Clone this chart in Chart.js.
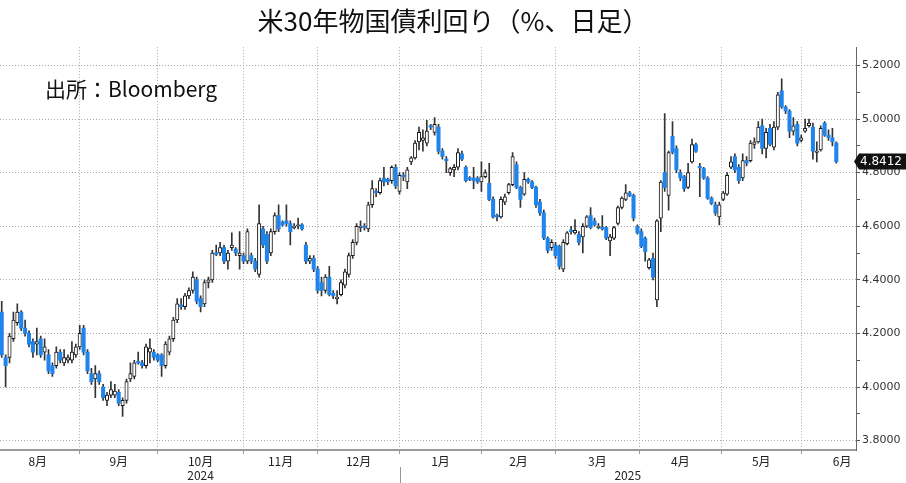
<!DOCTYPE html>
<html><head><meta charset="utf-8">
<script src="https://cdn.jsdelivr.net/npm/chart.js@4.4.1/dist/chart.umd.min.js"></script>
<style>
html,body{margin:0;padding:0;background:#fff;}
#wrap{position:relative;width:906px;height:483px;overflow:hidden;}
#src{position:absolute;left:45px;top:76px;font-family:'Noto Sans CJK JP','Noto Sans',sans-serif;font-size:21px;line-height:24px;color:#111;white-space:nowrap;}
</style></head><body>
<div id="wrap"><canvas id="c" width="906" height="483"></canvas><div id="src">出所：Bloomberg</div></div>
<script>
// ---- Data (daily OHLC of US 30Y yield, trading-day index 0..214) ----
const openV = [
4.28,4.11,4.11,4.18,4.24,4.28,4.22,4.20,4.17,4.16,
4.18,4.13,4.12,4.08,4.08,4.13,4.09,4.10,4.10,4.12,
4.15,4.22,4.13,4.05,4.03,4.05,4.00,3.95,3.97,3.97,
3.98,3.93,3.95,4.03,4.04,4.095,4.09,4.08,4.13,4.13,
4.12,4.12,4.08,4.13,4.18,4.25,4.305,4.30,4.34,4.36,
4.40,4.33,4.31,4.39,4.40,4.50,4.50,4.52,4.47,4.52,
4.515,4.49,4.49,4.47,4.49,4.47,4.42,4.59,4.57,4.50,
4.58,4.64,4.615,4.62,4.61,4.595,4.60,4.605,4.53,4.47,
4.48,4.44,4.39,4.36,4.41,4.35,4.33,4.345,4.38,4.42,
4.49,4.54,4.595,4.60,4.59,4.68,4.73,4.725,4.78,4.775,
4.77,4.82,4.73,4.79,4.765,4.84,4.855,4.915,4.92,4.91,
4.975,4.95,4.97,4.88,4.85,4.80,4.81,4.82,4.87,4.82,
4.78,4.78,4.78,4.765,4.785,4.76,4.70,4.64,4.635,4.69,
4.725,4.755,4.83,4.745,4.72,4.775,4.765,4.745,4.69,4.65,
4.555,4.52,4.53,4.525,4.44,4.535,4.585,4.575,4.57,4.56,
4.60,4.64,4.62,4.595,4.595,4.595,4.545,4.555,4.61,4.67,
4.70,4.725,4.715,4.60,4.58,4.555,4.445,4.48,4.325,4.63,
4.80,4.715,4.935,4.89,4.80,4.785,4.745,4.84,4.905,4.822,
4.815,4.78,4.705,4.68,4.635,4.70,4.72,4.82,4.86,4.82,
4.78,4.845,4.845,4.905,4.915,4.975,4.89,4.965,4.895,4.97,
5.105,5.045,5.03,4.955,4.98,4.92,4.955,4.975,4.97,4.875,
4.885,4.985,4.94,4.93,4.91];
const highV = [
4.32,4.12,4.20,4.28,4.31,4.285,4.25,4.21,4.18,4.22,
4.19,4.18,4.14,4.09,4.15,4.14,4.14,4.12,4.17,4.16,
4.23,4.23,4.14,4.07,4.08,4.06,4.01,3.98,4.02,4.01,
3.99,3.96,4.03,4.09,4.10,4.13,4.10,4.16,4.18,4.14,
4.125,4.125,4.17,4.19,4.26,4.33,4.33,4.35,4.37,4.43,
4.41,4.34,4.40,4.41,4.51,4.53,4.54,4.53,4.51,4.575,
4.52,4.58,4.50,4.59,4.50,4.48,4.68,4.60,4.58,4.59,
4.65,4.68,4.62,4.68,4.62,4.61,4.63,4.61,4.54,4.49,
4.49,4.45,4.41,4.42,4.45,4.36,4.36,4.40,4.44,4.50,
4.55,4.61,4.62,4.61,4.69,4.77,4.74,4.78,4.82,4.78,
4.825,4.83,4.80,4.80,4.82,4.86,4.92,4.97,4.96,4.995,
4.98,5.005,4.98,4.89,4.86,4.82,4.83,4.89,4.88,4.825,
4.785,4.82,4.785,4.84,4.81,4.835,4.71,4.645,4.71,4.72,
4.76,4.875,4.84,4.75,4.80,4.78,4.77,4.75,4.70,4.66,
4.56,4.55,4.54,4.53,4.55,4.58,4.60,4.625,4.58,4.61,
4.64,4.67,4.63,4.61,4.64,4.60,4.57,4.60,4.675,4.71,
4.755,4.73,4.72,4.605,4.59,4.56,4.48,4.50,4.625,4.77,
5.02,4.88,4.99,4.90,4.81,4.79,4.835,4.925,4.91,4.835,
4.82,4.785,4.71,4.69,4.69,4.73,4.80,4.86,4.87,4.83,
4.87,4.86,4.92,4.93,4.99,5.00,4.965,4.98,4.99,5.10,
5.15,5.05,5.035,5.005,4.99,4.94,5.00,5.00,4.985,4.915,
4.975,4.99,4.96,4.965,4.915];
const lowV = [
4.11,4.00,4.09,4.17,4.23,4.21,4.19,4.15,4.11,4.12,
4.11,4.10,4.05,4.04,4.07,4.09,4.08,4.09,4.09,4.11,
4.14,4.12,4.05,4.01,3.96,4.01,3.95,3.93,3.96,3.96,
3.93,3.89,3.94,4.02,4.03,4.085,4.07,4.07,4.09,4.10,
4.095,4.04,4.07,4.12,4.17,4.24,4.29,4.29,4.33,4.35,
4.31,4.28,4.30,4.37,4.39,4.49,4.49,4.46,4.44,4.51,
4.49,4.44,4.46,4.46,4.46,4.43,4.41,4.52,4.46,4.49,
4.57,4.58,4.60,4.60,4.53,4.59,4.59,4.585,4.46,4.46,
4.43,4.35,4.34,4.35,4.34,4.33,4.31,4.34,4.37,4.41,
4.48,4.53,4.58,4.585,4.58,4.67,4.71,4.72,4.75,4.755,
4.76,4.74,4.72,4.77,4.74,4.83,4.85,4.885,4.88,4.90,
4.96,4.94,4.87,4.85,4.80,4.79,4.785,4.81,4.845,4.765,
4.77,4.74,4.76,4.73,4.78,4.695,4.63,4.62,4.63,4.68,
4.72,4.75,4.74,4.67,4.715,4.76,4.74,4.67,4.64,4.55,
4.50,4.51,4.48,4.44,4.43,4.53,4.57,4.57,4.53,4.50,
4.595,4.59,4.60,4.59,4.585,4.55,4.49,4.55,4.605,4.665,
4.695,4.71,4.62,4.57,4.52,4.47,4.44,4.40,4.30,4.58,
4.73,4.66,4.87,4.80,4.77,4.73,4.74,4.835,4.875,4.71,
4.775,4.70,4.68,4.64,4.605,4.695,4.715,4.815,4.80,4.76,
4.77,4.825,4.84,4.89,4.91,4.87,4.855,4.90,4.885,4.96,
5.04,5.02,4.93,4.94,4.90,4.915,4.95,4.97,4.85,4.84,
4.88,4.935,4.92,4.90,4.835];
const closeV = [
4.12,4.08,4.19,4.25,4.28,4.22,4.20,4.16,4.13,4.17,
4.12,4.15,4.06,4.05,4.13,4.10,4.11,4.11,4.13,4.15,
4.20,4.13,4.06,4.02,4.05,4.02,3.96,3.97,3.99,3.985,
3.94,3.95,4.02,4.05,4.09,4.09,4.08,4.15,4.145,4.11,
4.10,4.08,4.16,4.18,4.25,4.31,4.30,4.34,4.36,4.41,
4.32,4.30,4.39,4.40,4.50,4.495,4.52,4.47,4.50,4.53,
4.50,4.50,4.47,4.58,4.47,4.44,4.61,4.53,4.47,4.58,
4.64,4.59,4.605,4.61,4.58,4.60,4.605,4.59,4.47,4.48,
4.44,4.36,4.36,4.41,4.345,4.34,4.335,4.39,4.43,4.49,
4.54,4.60,4.60,4.595,4.68,4.74,4.725,4.77,4.765,4.765,
4.82,4.75,4.79,4.785,4.81,4.855,4.91,4.95,4.93,4.955,
4.97,4.98,4.88,4.86,4.845,4.815,4.82,4.875,4.85,4.77,
4.775,4.77,4.765,4.785,4.80,4.70,4.635,4.635,4.70,4.71,
4.755,4.86,4.745,4.70,4.775,4.765,4.745,4.68,4.65,4.555,
4.51,4.54,4.49,4.45,4.54,4.575,4.58,4.585,4.54,4.60,
4.635,4.595,4.605,4.60,4.59,4.555,4.56,4.595,4.67,4.705,
4.725,4.715,4.63,4.575,4.525,4.505,4.475,4.41,4.62,4.765,
4.745,4.875,4.875,4.81,4.78,4.74,4.80,4.905,4.88,4.818,
4.78,4.705,4.685,4.65,4.68,4.725,4.79,4.84,4.81,4.77,
4.845,4.835,4.91,4.915,4.97,4.89,4.95,4.905,4.97,5.09,
5.045,5.03,4.955,4.975,4.91,4.93,4.965,4.985,4.88,4.88,
4.965,4.94,4.93,4.915,4.8412];

// Calendar: first-trading-day positions of each month (trading-day index), Aug 2024 .. Jul 2025
const monthStarts = [-1.5, 20, 40, 62, 81, 102, 123, 142, 163.5, 184.5, 205, 226];
const monthLabels = ['8月','9月','10月','11月','12月','1月','2月','3月','4月','5月','6月'];
const yearLabels = ['2024','2025'];
const yearStartIdx = 102;           // first trading day of 2025
const yTicks = [3.8,3.9,4.0,4.1,4.2,4.3,4.4,4.5,4.6,4.7,4.8,4.9,5.0,5.1,5.2];
const titleText = '米30年物国債利回り（%、日足）';

// ---- axis extents / style ----
const X_MIN = -0.44, X_MAX = 219.05, Y_MIN = 3.765, Y_MAX = 5.268;
const BLUE = '#1f84ec';
const CJK = "'Noto Sans CJK JP','Noto Sans',sans-serif";

const n = closeV.length;
const bodyData = [], wickData = [];
for (let i = 0; i < n; i++) {
  bodyData.push({x: i, y: [openV[i], closeV[i]]});
  wickData.push({x: i, y: [lowV[i], highV[i]]});
}
const isUp = i => closeV[i] >= openV[i];

// x ticks: month boundaries (grid), month centres (labels), year centres (second line)
const xTickDefs = [];
for (let k = 1; k < monthStarts.length - 1; k++) xTickDefs.push({value: monthStarts[k], kind: 'b', label: ''});
for (let k = 0; k < monthLabels.length; k++) xTickDefs.push({value: (monthStarts[k] + monthStarts[k+1]) / 2, kind: 'm', label: [monthLabels[k]]});
[[(X_MIN + yearStartIdx) / 2, yearLabels[0]], [(yearStartIdx + X_MAX) / 2, yearLabels[1]]].forEach(([v, lab]) => {
  const near = xTickDefs.find(t => t.kind === 'm' && Math.abs(t.value - v) < 1.5);
  if (near) near.label = [near.label[0], lab];
  else xTickDefs.push({value: v, kind: 'y', label: ['', lab]});
});
xTickDefs.sort((a, b) => a.value - b.value);

const lastValuePlugin = {
  id: 'lastValue',
  afterDraw(chart) {
    const {ctx, chartArea, scales} = chart;
    const v = closeV[n - 1];
    const yc = scales.y.getPixelForValue(v);
    const xl = chartArea.right - 2;
    ctx.save();
    ctx.fillStyle = '#111';
    ctx.beginPath();
    ctx.moveTo(xl, yc);
    ctx.lineTo(xl + 5, yc - 8);
    ctx.lineTo(chart.width, yc - 8);
    ctx.lineTo(chart.width, yc + 8);
    ctx.lineTo(xl + 5, yc + 8);
    ctx.closePath();
    ctx.fill();
    ctx.fillStyle = '#fff';
    ctx.font = "12px 'DejaVu Sans'";
    ctx.textBaseline = 'middle';
    ctx.textAlign = 'left';
    ctx.fillText(v.toFixed(4), xl + 6, yc + 0.5);
    const xs = Math.round(scales.x.getPixelForValue(yearStartIdx)) + 0.5;
    ctx.strokeStyle = '#999';
    ctx.lineWidth = 1;
    ctx.beginPath();
    ctx.moveTo(xs, chartArea.bottom + 17);
    ctx.lineTo(xs, chart.height);
    ctx.stroke();
    ctx.restore();
  }
};

new Chart(document.getElementById('c'), {
  type: 'bar',
  data: {
    datasets: [
      {
        label: 'body', data: bodyData, grouped: false,
        categoryPercentage: 1, barPercentage: 1, maxBarThickness: 3.4, minBarLength: 1.5,
        backgroundColor: c => isUp(c.dataIndex) ? '#ffffff' : BLUE,
        borderColor: c => isUp(c.dataIndex) ? '#1a1a1a' : BLUE,
        borderWidth: c => isUp(c.dataIndex) ? 1 : 0,
        borderSkipped: false
      },
      {
        label: 'wick', data: wickData, grouped: false,
        categoryPercentage: 1, barPercentage: 1, maxBarThickness: 1,
        backgroundColor: '#333333', borderWidth: 0
      }
    ]
  },
  options: {
    responsive: false, animation: false, devicePixelRatio: 1,
    layout: {padding: {left: 0, right: 0, top: 0, bottom: 0}},
    plugins: {
      legend: {display: false},
      tooltip: {enabled: false},
      title: {display: true, text: titleText, color: '#111',
        font: {family: CJK, size: 26, weight: 'normal', lineHeight: 1.2},
        padding: {top: 6, bottom: 10}}
    },
    scales: {
      x: {
        type: 'linear', min: X_MIN, max: X_MAX, offset: false,
        afterBuildTicks: s => { s.ticks = xTickDefs.map(t => ({value: t.value})); },
        afterFit: s => { s.height = 33; },
        ticks: {autoSkip: false, maxRotation: 0, minRotation: 0, padding: 0,
          color: '#222', font: {family: CJK, size: 12, lineHeight: 1.2},
          callback: (v, i) => xTickDefs[i] ? xTickDefs[i].label : ''},
        grid: {offset: false,
          color: c => (xTickDefs[c.index] && xTickDefs[c.index].kind === 'b') ? '#a8a8a8' : 'rgba(0,0,0,0)',
          tickColor: c => (xTickDefs[c.index] && xTickDefs[c.index].kind === 'b') ? '#999' : 'rgba(0,0,0,0)',
          tickLength: 4, lineWidth: 1},
        border: {display: true, color: '#9a9a9a', width: 2, dash: [1, 2]}
      },
      y: {
        type: 'linear', position: 'right', min: Y_MIN, max: Y_MAX, beginAtZero: false,
        afterBuildTicks: s => { s.ticks = yTicks.map(v => ({value: v})); },
        afterFit: s => { s.width = 50; },
        ticks: {autoSkip: false, padding: 2, color: '#333',
          font: {family: "'DejaVu Sans'", size: 11},
          callback: (v, i) => i % 2 === 0 ? yTicks[i].toFixed(4) : ''},
        grid: {color: c => c.index % 2 === 0 ? '#a8a8a8' : 'rgba(0,0,0,0)',
          tickColor: '#555', tickLength: 4, lineWidth: 1},
        border: {display: true, color: '#666', width: 1, dash: [1, 2]}
      }
    }
  },
  plugins: [lastValuePlugin]
});
</script>
</body></html>
